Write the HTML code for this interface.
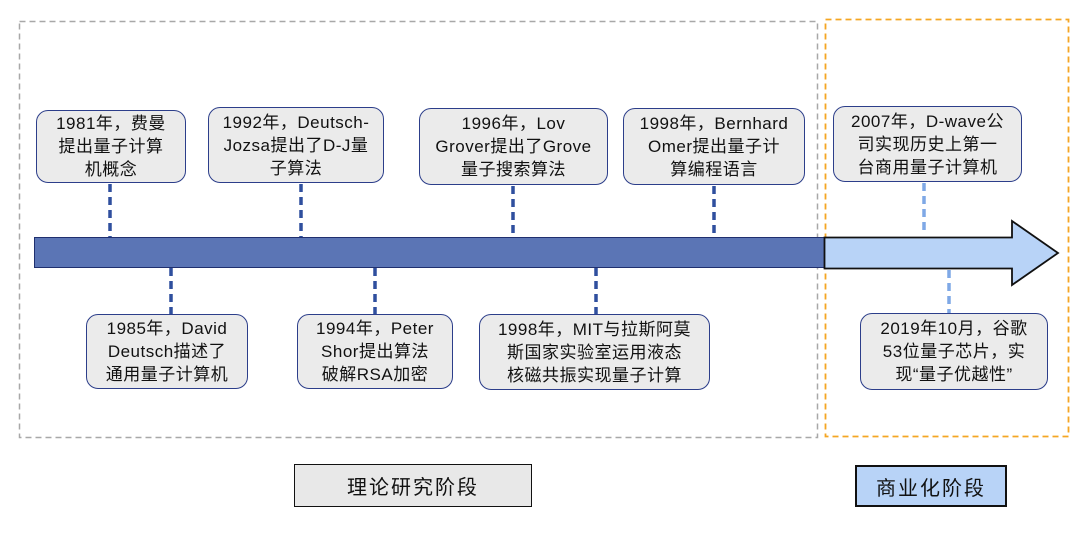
<!DOCTYPE html>
<html><head><meta charset="utf-8"><style>
html,body{margin:0;padding:0;background:#fff;}
body{width:1080px;height:538px;position:relative;overflow:hidden;font-family:"Liberation Sans","Noto Sans CJK SC",sans-serif;color:#111;}
.b{position:absolute;box-sizing:border-box;background:#ebebeb;border:1.5px solid #2c3e8a;border-radius:12px;display:flex;align-items:center;justify-content:center;text-align:center;font-size:17px;line-height:23px;letter-spacing:0.5px;white-space:nowrap;}
.lab{position:absolute;box-sizing:border-box;border:1.5px solid #111;display:flex;align-items:center;justify-content:center;font-size:20px;letter-spacing:2px;}
svg{position:absolute;left:0;top:0;}
</style></head><body>
<svg width="1080" height="538">
<rect x="19.5" y="21.5" width="798" height="416" fill="none" stroke="#a8a8a8" stroke-width="1.5" stroke-dasharray="6,4"/>
<rect x="825.5" y="19.5" width="243" height="417" fill="none" stroke="#f5a623" stroke-width="1.8" stroke-dasharray="6,4"/>
<g stroke="#2f4f9e" stroke-width="3.5" stroke-dasharray="8,5">
<line x1="110" y1="184" x2="110" y2="237"/>
<line x1="301" y1="184" x2="301" y2="237"/>
<line x1="513" y1="186" x2="513" y2="237"/>
<line x1="714" y1="186" x2="714" y2="237"/>
<line x1="171" y1="268" x2="171" y2="314"/>
<line x1="375" y1="268" x2="375" y2="314"/>
<line x1="596" y1="268" x2="596" y2="314"/>
</g>
<g stroke="#7fa8e6" stroke-width="3.5" stroke-dasharray="8,5">
<line x1="924" y1="183" x2="924" y2="234"/>
<line x1="949" y1="270" x2="949" y2="313"/>
</g>
<rect x="34.5" y="237.5" width="790" height="30" fill="#5b75b5" stroke="#1f2f6e" stroke-width="1"/>
<polygon points="824.5,237.5 1012,237.5 1012,221 1058,253 1012,285 1012,268.5 824.5,268.5" fill="#b8d3f7" stroke="#111" stroke-width="1.8"/>
</svg>
<div class="b" style="left:36px;top:110px;width:150px;height:73px;">1981年，费曼<br>提出量子计算<br>机概念</div>
<div class="b" style="left:208px;top:107px;width:176px;height:76px;">1992年，Deutsch-<br>Jozsa提出了D-J量<br>子算法</div>
<div class="b" style="left:419px;top:108px;width:189px;height:77px;">1996年，Lov<br>Grover提出了Grove<br>量子搜索算法</div>
<div class="b" style="left:623px;top:108px;width:182px;height:77px;">1998年，Bernhard<br>Omer提出量子计<br>算编程语言</div>
<div class="b" style="left:833px;top:106px;width:189px;height:76px;">2007年，D-wave公<br>司实现历史上第一<br>台商用量子计算机</div>
<div class="b" style="left:86px;top:314px;width:162px;height:75px;">1985年，David<br>Deutsch描述了<br>通用量子计算机</div>
<div class="b" style="left:297px;top:314px;width:156px;height:75px;">1994年，Peter<br>Shor提出算法<br>破解RSA加密</div>
<div class="b" style="left:479px;top:314px;width:231px;height:76px;">1998年，MIT与拉斯阿莫<br>斯国家实验室运用液态<br>核磁共振实现量子计算</div>
<div class="b" style="left:860px;top:313px;width:188px;height:77px;">2019年10月，谷歌<br>53位量子芯片，实<br>现“量子优越性”</div>
<div class="lab" style="left:294px;top:464px;width:238px;height:43px;background:#e8e8e8;">理论研究阶段</div>
<div class="lab" style="left:855px;top:465px;width:152px;height:42px;background:#b8d3f7;border:2px solid #111;">商业化阶段</div>
</body></html>
